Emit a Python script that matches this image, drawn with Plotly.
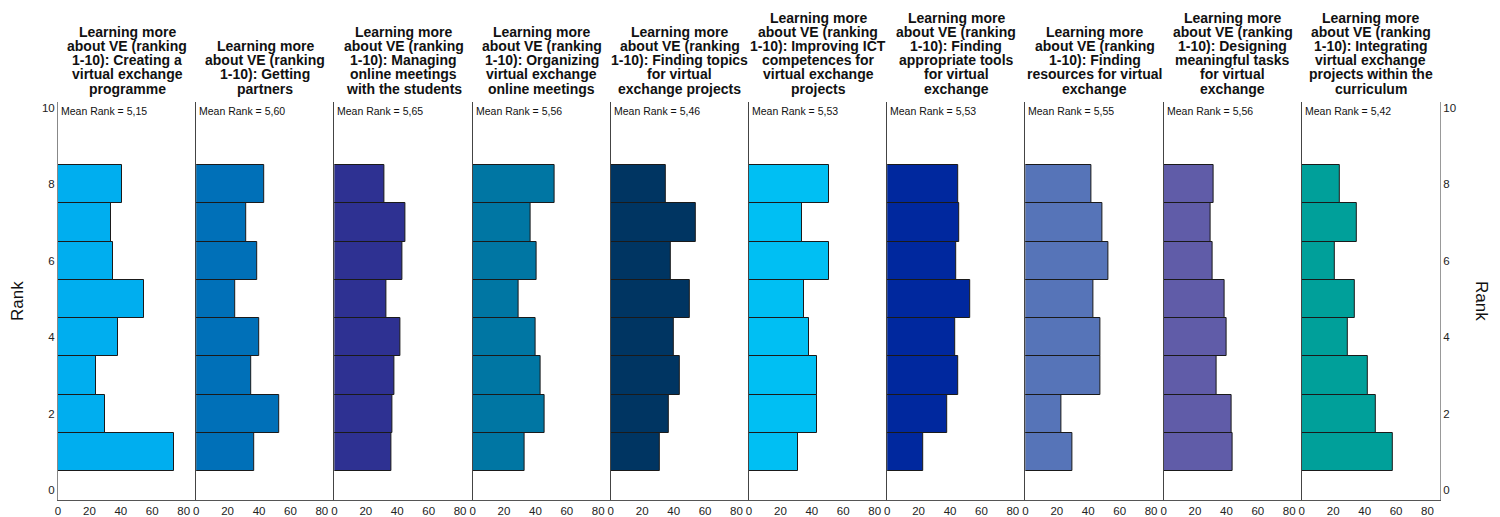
import plotly.graph_objects as go
from plotly.subplots import make_subplots

ranks = [1, 2, 3, 4, 5, 6, 7, 8]

titles = [
    ["Learning more", "about VE (ranking", "1-10): Creating a", "virtual exchange", "programme"],
    ["Learning more", "about VE (ranking", "1-10): Getting", "partners"],
    ["Learning more", "about VE (ranking", "1-10): Managing", "online meetings", "with the students"],
    ["Learning more", "about VE (ranking", "1-10): Organizing", "virtual exchange", "online meetings"],
    ["Learning more", "about VE (ranking", "1-10): Finding topics", "for virtual", "exchange projects"],
    ["Learning more", "about VE (ranking", "1-10): Improving ICT", "competences for", "virtual exchange", "projects"],
    ["Learning more", "about VE (ranking", "1-10): Finding", "appropriate tools", "for virtual", "exchange"],
    ["Learning more", "about VE (ranking", "1-10): Finding", "resources for virtual", "exchange"],
    ["Learning more", "about VE (ranking", "1-10): Designing", "meaningful tasks", "for virtual", "exchange"],
    ["Learning more", "about VE (ranking", "1-10): Integrating", "virtual exchange", "projects within the", "curriculum"],
]

mean_ranks = ["5,15", "5,60", "5,65", "5,56", "5,46", "5,53", "5,53", "5,55", "5,56", "5,42"]

counts_p1 = [74, 30, 24, 38, 55, 35, 34, 41]
counts_p2 = [37, 53, 35, 40, 25, 39, 32, 43]
counts_p3 = [36, 37, 38, 42, 33, 43, 45, 32]
counts_p4 = [33, 46, 43, 40, 29, 41, 37, 52]
counts_p5 = [31, 37, 44, 40, 50, 38, 54, 35]
counts_p6 = [31, 43, 43, 38, 35, 51, 34, 51]
counts_p7 = [23, 38, 45, 43, 53, 44, 46, 45]
counts_p8 = [30, 23, 48, 48, 43, 53, 49, 42]
counts_p9 = [44, 43, 34, 40, 39, 31, 30, 32]
counts_p10 = [58, 47, 42, 29, 34, 21, 35, 24]

all_counts = [counts_p1, counts_p2, counts_p3, counts_p4, counts_p5,
              counts_p6, counts_p7, counts_p8, counts_p9, counts_p10]

colors = ["#00AEEF", "#0070B8", "#2E3192", "#0076A3", "#003562",
          "#00BFF3", "#00289E", "#5674B8", "#605CA8", "#00A09A"]

x_ticks = [0, 20, 40, 60, 80]
y_ticks = [0, 2, 4, 6, 8, 10]

FONT = "Liberation Sans, Arial, sans-serif"
YR = [-0.25, 10.15]
XR = [0, 88]

fig = make_subplots(rows=1, cols=10, shared_yaxes=True, horizontal_spacing=0)

for i, (cnt, col) in enumerate(zip(all_counts, colors)):
    fig.add_trace(go.Bar(
        x=cnt, y=ranks, orientation="h", width=1,
        marker=dict(color=col, line=dict(color="#1a1a1a", width=1)),
        showlegend=False, hoverinfo="x+y",
    ), row=1, col=i + 1)

for i in range(10):
    fig.update_xaxes(range=XR, tickvals=x_ticks, showgrid=False, zeroline=False,
                     showline=True, linecolor="#555", linewidth=1, ticks="",
                     automargin=False,
                     tickfont=dict(family=FONT, size=11.5, color="#222"),
                     row=1, col=i + 1)
    fig.update_yaxes(range=YR, tickvals=y_ticks, showgrid=False, zeroline=False,
                     showline=True, linecolor="#444" if i > 0 else "#888", linewidth=1, ticks="",
                     showticklabels=(i == 0), automargin=False,
                     tickfont=dict(family=FONT, size=11.5, color="#222"),
                     row=1, col=i + 1)

# right-hand rank axis
fig.add_trace(go.Scatter(x=[None], y=[None], xaxis="x10", yaxis="y11",
                         showlegend=False, hoverinfo="skip"))
fig.update_layout(yaxis11=dict(overlaying="y10", side="right", anchor="x10",
                               range=YR, tickvals=y_ticks, showgrid=False, zeroline=False,
                               showline=True, linecolor="#999", linewidth=1, ticks="",
                               automargin=False,
                               tickfont=dict(family=FONT, size=11.5, color="#222")))

annotations = []
for i, lines in enumerate(titles):
    xref = "x domain" if i == 0 else f"x{i+1} domain"
    n = len(lines)
    for j, line in enumerate(lines):
        center_px = 88.5 - (n - 1 - j) * 14.2
        annotations.append(dict(
            text=f"<b>{line}</b>", xref=xref, yref="paper", x=0.5, y=1,
            xanchor="center", yanchor="middle", yshift=102 - center_px,
            showarrow=False, font=dict(family=FONT, size=14, color="#111"),
        ))
    annotations.append(dict(
        text=f"Mean Rank = {mean_ranks[i]}", xref=xref, yref="paper", x=0, y=1,
        xanchor="left", yanchor="middle", xshift=1, yshift=102 - 111,
        showarrow=False, font=dict(family=FONT, size=10.5, color="#111"),
    ))

annotations.append(dict(text="Rank", xref="paper", yref="paper", x=0, y=0.5,
                        xanchor="center", yanchor="middle", xshift=-41, textangle=-90,
                        showarrow=False, font=dict(family=FONT, size=17, color="#111")))
annotations.append(dict(text="Rank", xref="paper", yref="paper", x=1, y=0.5,
                        xanchor="center", yanchor="middle", xshift=42, textangle=90,
                        showarrow=False, font=dict(family=FONT, size=17, color="#111")))

fig.update_layout(
    width=1500, height=517,
    margin=dict(l=58, r=60, t=102, b=17, autoexpand=False),
    paper_bgcolor="white", plot_bgcolor="white",
    bargap=0,
    annotations=annotations,
)

fig.write_html("out.html")
